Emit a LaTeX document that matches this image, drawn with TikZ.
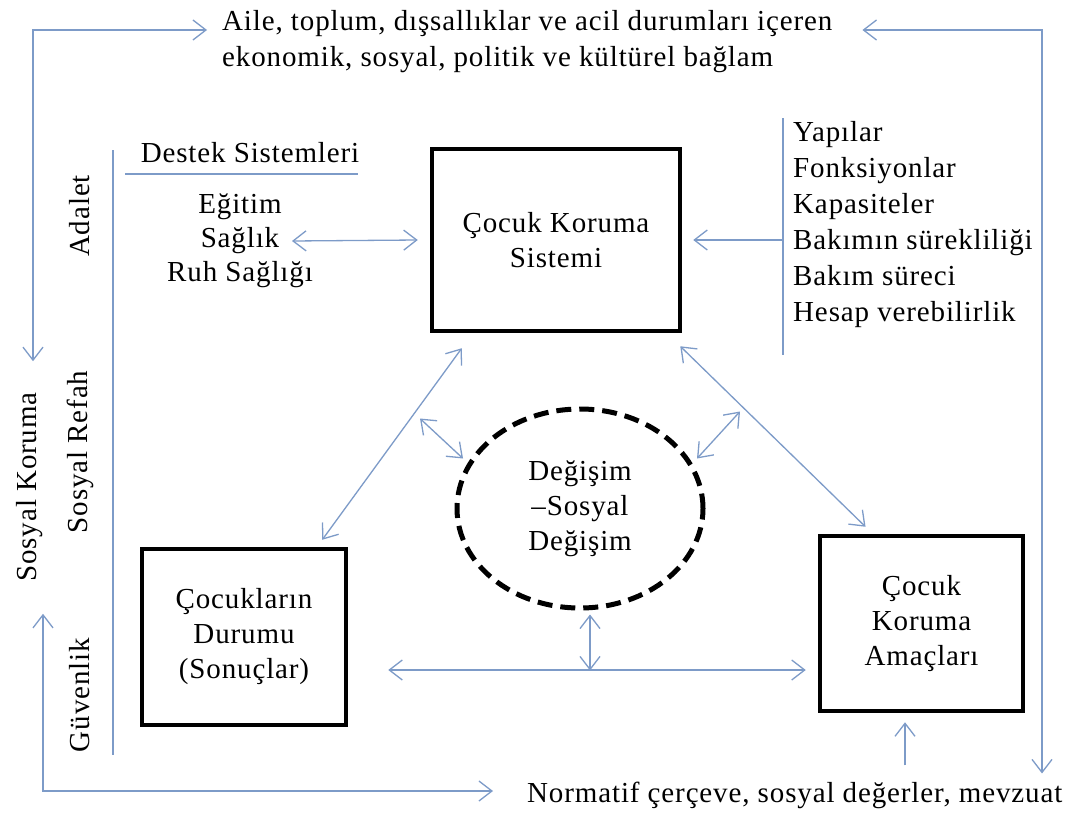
\documentclass[tikz,border=0pt]{standalone}
\usepackage{fontspec}
\setmainfont{Liberation Serif}[LetterSpace=3]
\usetikzlibrary{arrows.meta,calc,positioning,shapes.geometric}
\definecolor{linkblue}{RGB}{125,155,200}
\tikzset{
  kutu/.style={draw, line width=4.5pt, inner sep=0pt, align=center},
  yazi/.style={inner sep=0pt, align=center},
  dik/.style={inner sep=0pt, rotate=90},
  bag/.style={draw=linkblue, line width=1.3pt,
    {Straight Barb[length=13pt,width=20pt]}-{Straight Barb[length=13pt,width=20pt]}},
  tek/.style={draw=linkblue, line width=1.3pt, -{Straight Barb[length=13pt,width=20pt]}},
  cizgi/.style={draw=linkblue, line width=1.3pt}
}

\begin{document}
\begin{tikzpicture}
          [x=1pt,y=-1pt,font=\fontsize{29}{35}\selectfont]
          \fill[white] (0,0) rectangle (1081,819);
          \useasboundingbox (0,0) rectangle (1081,819);

          % main boxes
          \node[kutu, minimum width=248pt, minimum height=182pt] (cks) at (556,240) {Çocuk Koruma\\Sistemi};
          \node[kutu, minimum width=204pt, minimum height=176pt] (durum) at (244,637) {Çocukların\\Durumu\\(Sonuçlar)};
          \node[kutu, minimum width=203pt, minimum height=175pt] (amac) at (921.5,623.5) {Çocuk\\Koruma\\Amaçları};
          \node[ellipse, draw, line width=5pt, dash pattern=on 15pt off 8pt, inner sep=0pt,
                minimum width=246pt, minimum height=199pt, align=center] (degisim) at (580,508.5) {Değişim\\–Sosyal\\Değişim};

          % texts
          \node[yazi, align=left, anchor=west, font=\fontsize{29}{36}\selectfont] (ctx) at (222,42)
            {Aile, toplum, dışsallıklar ve acil durumları içeren\\ekonomik, sosyal, politik ve kültürel bağlam};
          \node[yazi, anchor=west] (norm) at (527,795) {Normatif çerçeve, sosyal değerler, mevzuat};
          \node[yazi] (destek) at (250,153) {Destek Sistemleri};
          \node[yazi, font=\fontsize{29}{34}\selectfont] (hizmet) at (240,241) {Eğitim\\Sağlık\\Ruh Sağlığı};
          \node[yazi, align=left, anchor=west, font=\fontsize{29}{36}\selectfont] (yapi) at (793,225)
            {Yapılar\\Fonksiyonlar\\Kapasiteler\\Bakımın sürekliliği\\Bakım süreci\\Hesap verebilirlik};

          % vertical labels
          \node[dik] (sk) at (30,487) {Sosyal Koruma};
          \node[dik] (adalet) at (80,216) {Adalet};
          \node[dik] (refah) at (80,452) {Sosyal Refah};
          \node[dik] (guven) at (80,695) {Güvenlik};

          % plain rules
          \draw[cizgi] (113,150) -- (113,755);
          \draw[cizgi] (125,174) -- (358,174);
          \draw[cizgi] (783,118) -- (783,355);

          % connectors
          \draw[bag] ([xshift=-21pt]hizmet.east) -- ([xshift=-12pt]cks.west);
          \draw[tek] ($(yapi.west)+(-10,15)$) -- ([xshift=11pt]cks.east);
          \draw[bag] ($(cks.south west)+(32,15)$) -- ($(durum.north east)+(-26,-7)$);
          \draw[bag] ($(cks.south east)+(-2,13)$) -- ($(amac.north)+(-56,-7)$);
          \draw[bag] ($(durum.east)+(40,33)$) -- ($(amac.west)+(-12,46.5)$);
          \draw[bag] ($(degisim.south)+(10,4)$) -- ++(0,56);
          \draw[bag] ($(degisim.center)+(-160,-90)$) -- ($(degisim.center)+(-117,-50)$);
          \draw[bag] ($(degisim.center)+(160,-97)$) -- ($(degisim.center)+(117,-50)$);
          \draw[tek] ($(amac.south)+(-16.5,52)$) -- ($(amac.south)+(-16.5,9)$);

          % outer frame connectors
          \draw[bag] ($(sk.east)+(3,-31)$) |- ($(ctx.west)+(-15,-12)$);
          \draw[bag] ($(sk.west)+(13,32)$) |- ($(norm.west)+(-34,-4)$);
          \draw[bag] ($(ctx.east)+(30,-12)$) -| ($(norm.north west)+(515,-8)$);
        \end{tikzpicture}
\end{document}
